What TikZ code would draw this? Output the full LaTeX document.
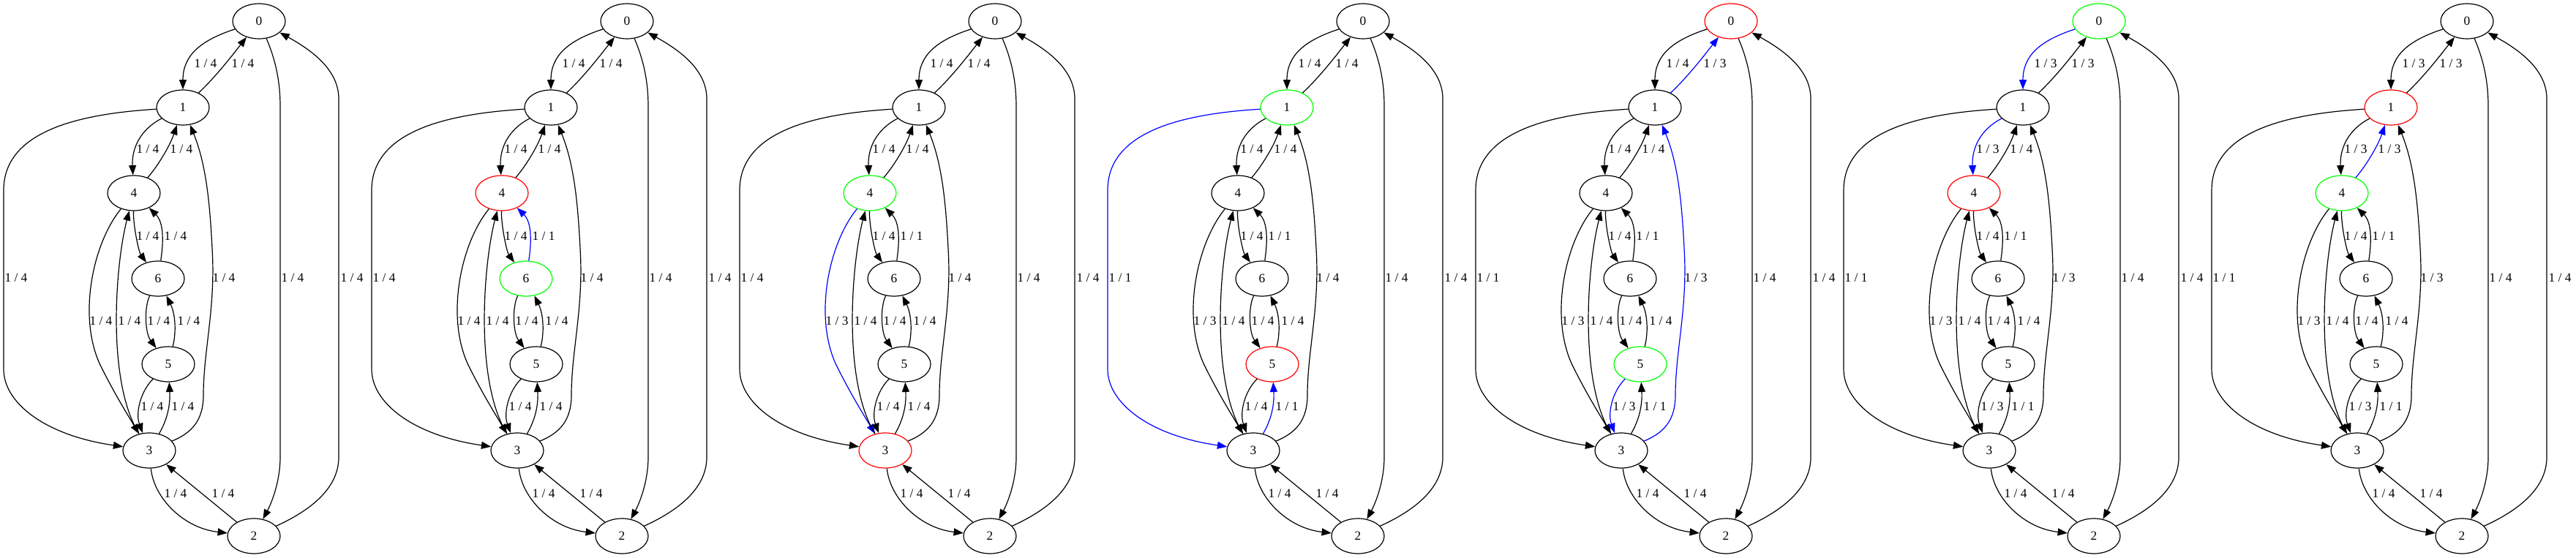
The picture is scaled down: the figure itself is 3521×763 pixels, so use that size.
\documentclass[tikz,border=0pt]{standalone}
\usepackage{fontspec}
\setmainfont{Liberation Serif}
\usetikzlibrary{shapes.geometric,arrows.meta}
\tikzset{
  gnode/.style={draw, ellipse, minimum width=54pt, minimum height=36pt, inner sep=0pt, line width=0.9pt, font=\fontsize{13}{15}\selectfont},
  gedge/.style={line width=0.9pt, -{Triangle[length=10pt,width=7.5pt]}},
  elab/.style={font=\fontsize{13}{15}\selectfont, inner sep=0pt, text=black},
}
\newcommand\resetcols{%
  \def\pnA{black}\def\pnB{black}\def\pnC{black}\def\pnD{black}\def\pnE{black}\def\pnF{black}\def\pnG{black}%
  \def\peA{black}\def\peB{black}\def\peC{black}\def\peD{black}\def\peE{black}\def\peF{black}%
  \def\peG{black}\def\peH{black}\def\peI{black}\def\peJ{black}\def\peK{black}\def\peL{black}%
  \def\peM{black}\def\peN{black}\def\peO{black}\def\peP{black}\def\peQ{black}\def\peR{black}}
\def\plA{1 / 4}\def\plB{1 / 4}\def\plC{1 / 4}\def\plD{1 / 4}\def\plE{1 / 4}\def\plF{1 / 4}
\def\plG{1 / 4}\def\plH{1 / 4}\def\plI{1 / 4}\def\plJ{1 / 4}\def\plK{1 / 4}\def\plL{1 / 4}
\def\plM{1 / 4}\def\plN{1 / 4}\def\plO{1 / 4}\def\plP{1 / 4}\def\plQ{1 / 4}\def\plR{1 / 4}
\newcommand\gpanel[2]{%
\begin{scope}[shift={(#2,0)}]
  \node[gnode,draw=\pnA] (#1n0) at (354,29) {0};
  \node[gnode,draw=\pnB] (#1n1) at (250,147) {1};
  \node[gnode,draw=\pnC] (#1n2) at (347,733) {2};
  \node[gnode,draw=\pnD] (#1n3) at (204,616) {3};
  \node[gnode,draw=\pnE] (#1n4) at (183,264) {4};
  \node[gnode,draw=\pnF] (#1n5) at (230,498) {5};
  \node[gnode,draw=\pnG] (#1n6) at (216,381) {6};
  % edges
  \draw[gedge,color=\peA] (#1n0) .. controls (275,55) and (250,75) .. (#1n1);
  \draw[gedge,color=\peB] (#1n1) .. controls (295,105) and (318,75) .. (#1n0);
  \draw[gedge,color=\peC] (#1n0) .. controls (378,85) and (383,115) .. (383,145) -- (383,625) .. controls (383,660) and (370,690) .. (#1n2);
  \draw[gedge,color=\peD] (#1n2) .. controls (420,700) and (463,670) .. (463,625) -- (463,135) .. controls (463,95) and (425,68) .. (#1n0);
  \draw[gedge,color=\peE] (#1n1) .. controls (120,155) and (5,175) .. (5,260) -- (5,505) .. controls (5,550) and (60,595) .. (#1n3);
  \draw[gedge,color=\peF] (#1n1) .. controls (190,178) and (180,205) .. (#1n4);
  \draw[gedge,color=\peG] (#1n4) .. controls (215,228) and (232,200) .. (#1n1);
  \draw[gedge,color=\peH] (#1n4) .. controls (182,310) and (190,345) .. (#1n6);
  \draw[gedge,color=\peI] (#1n6) .. controls (223,335) and (225,305) .. (#1n4);
  \draw[gedge,color=\peJ] (#1n6) .. controls (197,420) and (198,455) .. (#1n5);
  \draw[gedge,color=\peK] (#1n5) .. controls (241,455) and (240,430) .. (#1n6);
  \draw[gedge,color=\peL] (#1n4) .. controls (125,335) and (105,440) .. (140,505) .. controls (155,535) and (170,560) .. (#1n3);
  \draw[gedge,color=\peM] (#1n3) .. controls (145,520) and (158,360) .. (#1n4);
  \draw[gedge,color=\peN] (#1n5) .. controls (192,535) and (185,565) .. (#1n3);
  \draw[gedge,color=\peO] (#1n3) .. controls (228,575) and (233,555) .. (#1n5);
  \draw[gedge,color=\peP] (#1n3) .. controls (262,592) and (278,575) .. (278,540) .. controls (278,480) and (295,420) .. (290,340) .. controls (287,280) and (282,225) .. (#1n1);
  \draw[gedge,color=\peQ] (#1n3) .. controls (210,680) and (250,722) .. (#1n2);
  \draw[gedge,color=\peR] (#1n2) -- (#1n3);
  % labels
  \node[elab] (#1lA) at (281,87) {\plA};
  \node[elab] (#1lB) at (332,87) {\plB};
  \node[elab] (#1lC) at (400,380) {\plC};
  \node[elab] (#1lD) at (481,380) {\plD};
  \node[elab] (#1lE) at (22,380) {\plE};
  \node[elab] (#1lF) at (202,204) {\plF};
  \node[elab] (#1lG) at (248,204) {\plG};
  \node[elab] (#1lH) at (202,323) {\plH};
  \node[elab] (#1lI) at (240,323) {\plI};
  \node[elab] (#1lJ) at (217,439) {\plJ};
  \node[elab] (#1lK) at (258,439) {\plK};
  \node[elab] (#1lL) at (138,439) {\plL};
  \node[elab] (#1lM) at (177,439) {\plM};
  \node[elab] (#1lN) at (208,556) {\plN};
  \node[elab] (#1lO) at (250,556) {\plO};
  \node[elab] (#1lP) at (306,380) {\plP};
  \node[elab] (#1lQ) at (240,675) {\plQ};
  \node[elab] (#1lR) at (305,675) {\plR};
\end{scope}}
\begin{document}
\begin{tikzpicture}[x=0.75pt,y=-0.75pt]
\useasboundingbox (0,0) rectangle (3521,763);
% panel 1
\resetcols
\gpanel{pa}{0}
% panel 2
\resetcols
\def\pnE{red}\def\pnG{green}\def\peI{blue}\def\plI{1 / 1}
\gpanel{pb}{503}
% panel 3
\resetcols
\def\pnE{green}\def\pnD{red}\def\peL{blue}\def\plL{1 / 3}
\gpanel{pc}{1006}
% panel 4
\resetcols
\def\pnB{green}\def\pnF{red}\def\peE{blue}\def\plE{1 / 1}\def\peO{blue}\def\plO{1 / 1}
\gpanel{pd}{1509}
% panel 5
\resetcols
\def\pnA{red}\def\pnF{green}\def\peN{blue}\def\plN{1 / 3}\def\peP{blue}\def\plP{1 / 3}\def\peB{blue}\def\plB{1 / 3}
\gpanel{pe}{2012}
% panel 6
\resetcols
\def\pnA{green}\def\pnE{red}\def\peA{blue}\def\plA{1 / 3}\def\peF{blue}\def\plF{1 / 3}
\gpanel{pf}{2515}
% panel 7
\resetcols
\def\pnB{red}\def\pnE{green}\def\peG{blue}\def\plG{1 / 3}
\gpanel{pg}{3018}
\end{tikzpicture}
\end{document}
